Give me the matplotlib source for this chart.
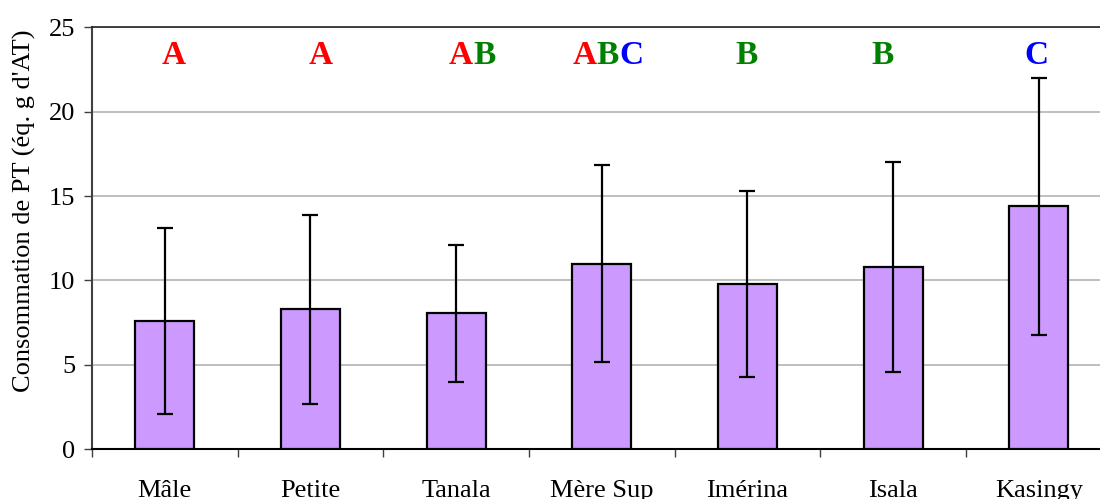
import matplotlib.pyplot as plt
from matplotlib.offsetbox import TextArea, HPacker, AnnotationBbox
import numpy as np

plt.rcParams['font.family'] = ['Liberation Serif', 'DejaVu Serif']

categories = ['Mâle', 'Petite', 'Tanala', 'Mère Sup', 'Imérina', 'Isala', 'Kasingy']
means = [7.6, 8.3, 8.05, 11.0, 9.8, 10.8, 14.4]
errors = [5.5, 5.6, 4.05, 5.85, 5.5, 6.2, 7.6]
groups = ['A', 'A', 'AB', 'ABC', 'B', 'B', 'C']
letter_colors = {'A': '#FF0000', 'B': '#008000', 'C': '#0000FF'}
# letters are not exactly centred on the bars in the original
letter_shift = [0.062, 0.069, 0.11, 0.041, -0.007, -0.075, -0.014]

fig = plt.figure(figsize=(11, 4.99), dpi=100)
ax = fig.add_axes([0.0836, 0.0996, 0.927, 0.8458])

x = np.arange(len(categories))
ax.bar(x, means, width=0.405, color='#CC99FF', edgecolor='black', linewidth=1.6, zorder=3)
ax.errorbar(x, means, yerr=errors, fmt='none', ecolor='black', elinewidth=1.6,
            capsize=5.8, capthick=1.6, zorder=4)

# significance letters
for xi, g, dx in zip(x, groups, letter_shift):
    parts = [TextArea(c, textprops=dict(color=letter_colors[c], fontsize=24, fontweight='bold'))
             for c in g]
    box = HPacker(children=parts, align='baseline', pad=0, sep=0)
    ab = AnnotationBbox(box, (xi + dx, 23.35), frameon=False, box_alignment=(0.5, 0.5),
                        annotation_clip=False)
    ax.add_artist(ab)

ax.set_xlim(-0.5, len(categories) - 0.5)
ax.set_ylim(0, 25)
ax.set_yticks([0, 5, 10, 15, 20, 25])
ax.yaxis.grid(True, color='#b4b4b4', linewidth=1.2, zorder=0)
ax.set_axisbelow(True)

ax.set_xticks(x)
ax.set_xticklabels(categories, fontsize=19)
ax.set_xticks(np.arange(-0.5, len(categories)), minor=True)
ax.tick_params(axis='x', which='major', length=0, pad=22)
ax.tick_params(axis='x', which='minor', length=6, width=1, color='#404040')
ax.tick_params(axis='y', length=6, width=1, labelsize=19, pad=6, color='#404040')

ax.spines['top'].set_color('#222222')
ax.spines['top'].set_linewidth(1.2)
ax.spines['right'].set_visible(False)
ax.spines['left'].set_color('#404040')
ax.spines['left'].set_linewidth(1.5)
ax.spines['bottom'].set_linewidth(1.5)

ax.set_ylabel("Consommation de PT (éq. g d'AT)", fontsize=19)
ax.yaxis.set_label_coords(-0.055, 0.565)

fig.savefig('out.png', dpi=100)
